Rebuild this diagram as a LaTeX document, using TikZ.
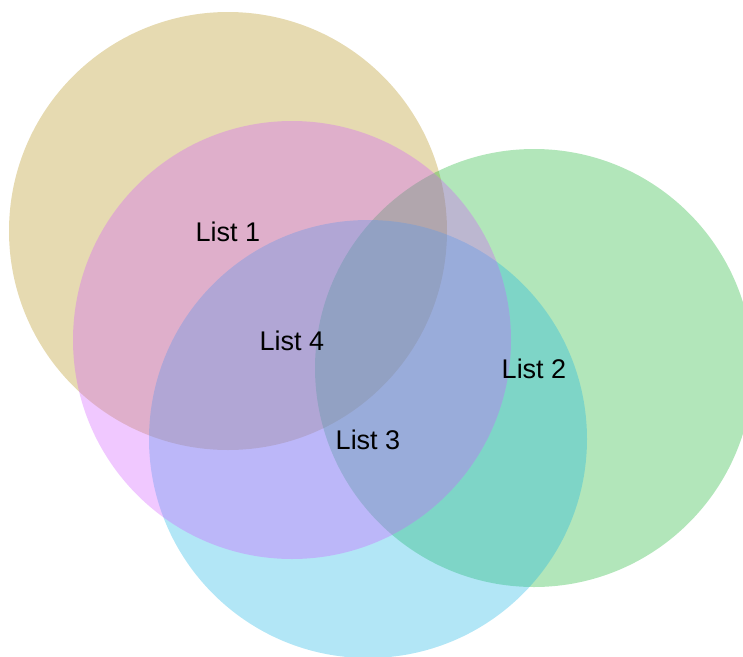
\documentclass[tikz,border=0pt]{standalone}
\usepackage{fontspec}
\setmainfont{Liberation Sans}
\definecolor{cA}{RGB}{180,144,21}
\definecolor{cB}{RGB}{24,180,48}
\definecolor{cC}{RGB}{24,180,228}
\definecolor{cD}{RGB}{210,90,255}
\begin{document}
\begin{tikzpicture}[x=1pt,y=-1pt,
  setcirc/.style={circle,minimum size=438pt,inner sep=0pt,fill opacity=0.333,text opacity=1},
  lbl/.style={font=\fontsize{27}{32}\selectfont,text=black}]
\useasboundingbox (0,0) rectangle (743,656);
\begin{scope}
\clip (0,0) rectangle (743,656);
\node[setcirc,fill=cA] (c1) at (228,231) {};
\node[setcirc,fill=cB] (c2) at (534,368) {};
\node[setcirc,fill=cC] (c3) at (368,439) {};
\node[setcirc,fill=cD] (c4) at (292,340) {};
\end{scope}
\node[lbl] (l1) at (228,232) {List 1};
\node[lbl] (l2) at (534,369) {List 2};
\node[lbl] (l3) at (368,440) {List 3};
\node[lbl] (l4) at (292,341) {List 4};
\end{tikzpicture}
\end{document}
